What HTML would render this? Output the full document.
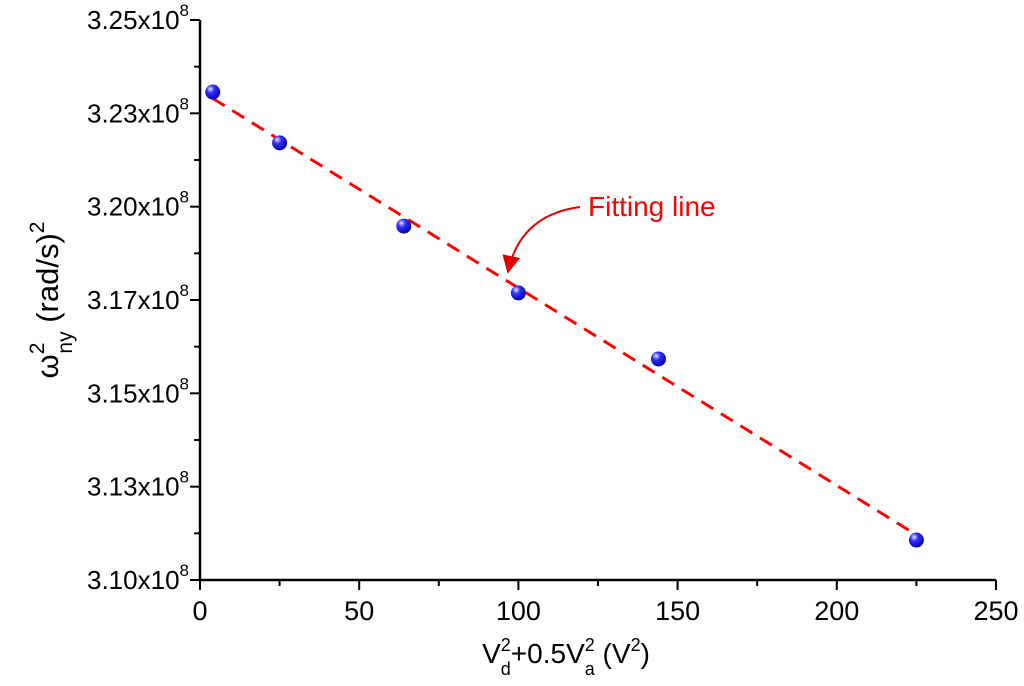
<!DOCTYPE html>
<html><head><meta charset="utf-8"><style>
body{margin:0;background:#fff}
svg text{font-family:"Liberation Sans",Arial,sans-serif}
</style></head><body>
<svg id="c" width="1024" height="681" xmlns="http://www.w3.org/2000/svg">
<defs>
<radialGradient id="g" cx="0.35" cy="0.3" r="0.75">
<stop offset="0" stop-color="#e8e8ff"/><stop offset="0.35" stop-color="#3030ff"/><stop offset="1" stop-color="#0000a0"/>
</radialGradient>
<marker id="ah" viewBox="0 0 10 10" refX="9" refY="5" markerWidth="9" markerHeight="9" orient="auto"><path d="M0,0L10,5L0,10z" fill="#e00000"/></marker>
</defs>
</svg>
<script>
const xs=[4,25,64,100,144,225];
const ys=[3.2307,3.2171,3.1948,3.1769,3.1592,3.1107];
const xTicks=[0,50,100,150,200,250];
const yTicks=[3.10,3.125,3.15,3.175,3.20,3.225,3.25];
const yTickLabels=["3.10","3.13","3.15","3.17","3.20","3.23","3.25"];
const L=200,R=996,T=20,B=580;
const X=v=>L+(v-0)/(250-0)*(R-L);
const Y=v=>B-(v-3.10)/(0.15)*(B-T);
const svg=document.getElementById('c');
const NS="http://www.w3.org/2000/svg";
function mk(t,a,p){const e=document.createElementNS(NS,t);for(const k in a)e.setAttribute(k,a[k]);(p||svg).appendChild(e);return e;}
let ax=mk('line',{x1:L,y1:B,x2:R,y2:B,stroke:'#000','stroke-width':2.5});


let ay=mk('line',{x1:L,y1:T,x2:L,y2:B,stroke:'#000','stroke-width':2.5});


xTicks.forEach((v,i)=>{
 const x=X(v);
 let t=mk('line',{x1:x,y1:B,x2:x,y2:B+10,stroke:'#000','stroke-width':2});
 
 
 let lb=mk('text',{x:x,y:B+40,'text-anchor':'middle','font-size':27});
 lb.textContent=v;
 
 
 if(i<xTicks.length-1){
  let m=mk('line',{x1:X(v+25),y1:B,x2:X(v+25),y2:B+6,stroke:'#000','stroke-width':2});
  
  
 }
});
yTicks.forEach((v,i)=>{
 const y=Y(v);
 let t=mk('line',{x1:L-10,y1:y,x2:L,y2:y,stroke:'#000','stroke-width':2});
 
 
 let lb=mk('text',{x:189,y:y+9,'text-anchor':'end','font-size':26});
 lb.innerHTML=yTickLabels[i]+'x10<tspan dy="-13" font-size="17">8</tspan>';
 
 
 if(i<yTicks.length-1){
  const ym=(Y(v)+Y(yTicks[i+1]))/2;
  let m=mk('line',{x1:L-6,y1:ym,x2:L,y2:ym,stroke:'#000','stroke-width':2});
  
  
 }
});
const n=xs.length,mx=xs.reduce((a,b)=>a+b)/n,my=ys.reduce((a,b)=>a+b)/n;
let sxy=0,sxx=0;xs.forEach((x,i)=>{sxy+=(x-mx)*(ys[i]-my);sxx+=(x-mx)**2;});
const sl=sxy/sxx,ic=my-sl*mx;
const x0=xs[0],x1=xs[n-1];
let fl=mk('line',{x1:X(x0),y1:Y(ic+sl*x0),x2:X(x1),y2:Y(ic+sl*x1),stroke:'#ff0000','stroke-width':3,'stroke-dasharray':'14,9'});


xs.forEach((x,i)=>{
 let c=mk('circle',{cx:X(x),cy:Y(ys[i]),r:7.5,fill:'url(#g)'});
 
 
});
let an=mk('text',{x:588,y:216,'font-size':28,fill:'#ff0000'});
an.textContent='Fitting line';


let ar=mk('path',{d:'M580,207 Q520,215 508,272',fill:'none',stroke:'#e00000','stroke-width':2,'marker-end':'url(#ah)'});


let xt=mk('text',{x:566,y:663,'text-anchor':'middle','font-size':28});
xt.innerHTML='V<tspan dy="-12" font-size="18">2</tspan><tspan dx="-10" dy="24" font-size="18">d</tspan><tspan dy="-12">+0.5V</tspan><tspan dy="-12" font-size="18">2</tspan><tspan dx="-10" dy="24" font-size="18">a</tspan><tspan dy="-12"> (V</tspan><tspan dy="-12" font-size="18">2</tspan><tspan dy="12">)</tspan>';


let yt=mk('text',{x:0,y:0,'text-anchor':'middle','font-size':31,transform:'translate(58,300) rotate(-90)'});
yt.innerHTML='ω<tspan dy="-14" font-size="21">2</tspan><tspan dx="-11" dy="28" font-size="21">ny</tspan><tspan dy="-14"> (rad/s)</tspan><tspan dy="-14" font-size="21">2</tspan>';


</script>
</body></html>
